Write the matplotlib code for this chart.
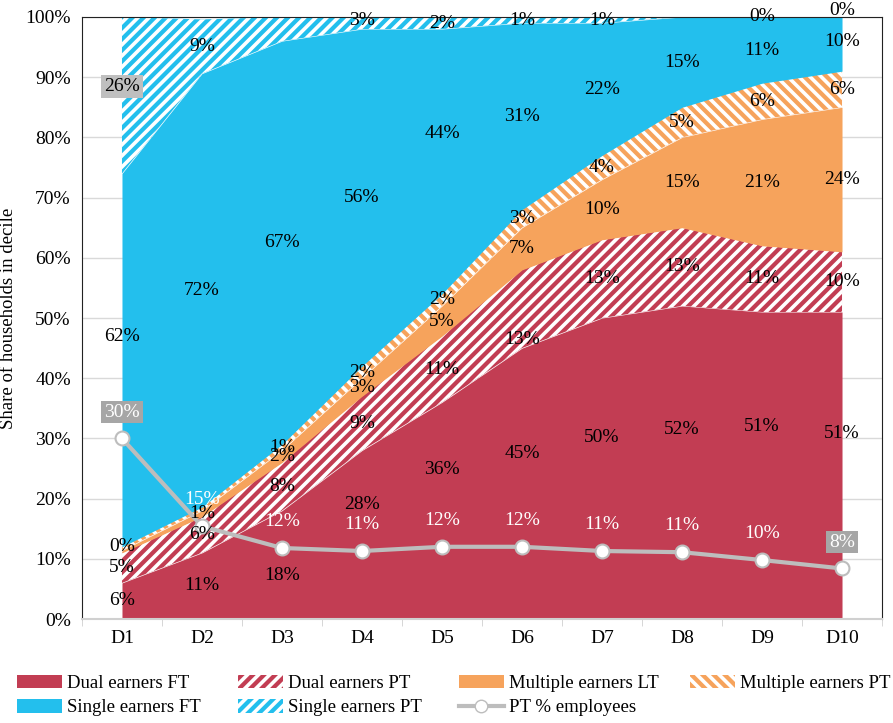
import matplotlib
matplotlib.use("Agg")
import matplotlib.pyplot as plt
from matplotlib.patches import Patch
from matplotlib.lines import Line2D
import numpy as np

plt.rcParams['font.family'] = ['Liberation Serif', 'DejaVu Serif']
plt.rcParams['hatch.color'] = 'white'
plt.rcParams['hatch.linewidth'] = 2.6

deciles = ["D1", "D2", "D3", "D4", "D5", "D6", "D7", "D8", "D9", "D10"]

# share of households in decile (%)
dual_ft = [6, 11, 18, 28, 36, 45, 50, 52, 51, 51]
dual_pt = [5, 6, 8, 9, 11, 13, 13, 13, 11, 10]
multi_lt = [0.4, 1, 2, 3, 5, 7, 10, 15, 21, 24]
multi_pt = [0.6, 0.6, 1, 2, 2, 3, 4, 5, 6, 6]
single_ft = [62, 72, 67, 56, 44, 31, 22, 15, 11, 10]
single_pt = [26, 9, 4, 3, 2, 1, 1, 0, 0, 0]

pt_employees = [30, 15.4, 11.8, 11.3, 12.0, 12.0, 11.3, 11.1, 9.8, 8.4]

series = [
    ("Dual earners FT", dual_ft, "#C23D53", None),
    ("Dual earners PT", dual_pt, "#C23D53", "///"),
    ("Multiple earners LT", multi_lt, "#F6A35C", None),
    ("Multiple earners PT", multi_pt, "#F6A35C", "\\\\\\"),
    ("Single earners FT", single_ft, "#23BFED", None),
    ("Single earners PT", single_pt, "#23BFED", "///"),
]
# labels that are not shown on the original chart
hidden = {("Multiple earners PT", 0), ("Multiple earners PT", 1),
          ("Single earners PT", 2), ("Single earners PT", 7)}
# labels dragged away from the middle of their band (in % points)
nudge = {("Dual earners FT", 2): -1.7, ("Dual earners FT", 3): 5,
         ("Dual earners FT", 4): 6.8, ("Dual earners FT", 5): 5,
         ("Dual earners FT", 6): 5.2, ("Dual earners FT", 7): 5.4,
         ("Dual earners FT", 8): 6.5, ("Dual earners FT", 9): 5.4,
         ("Dual earners PT", 5): -5, ("Single earners FT", 4): 4.7,
         ("Single earners FT", 0): 4, ("Single earners PT", 0): 1.5,
         ("Multiple earners LT", 0): 0.8}

fig = plt.figure(figsize=(8.93, 7.23), dpi=100)
ax = fig.add_axes([0.0918, 0.1438, 0.8959, 0.8327])

x = np.arange(len(deciles))
base = np.zeros(len(deciles))
handles = {}
for name, vals, col, hatch in series:
    v = np.array(vals, dtype=float)
    top = base + v
    ax.fill_between(x, base / 100, top / 100, facecolor=col, edgecolor='white',
                    linewidth=0, hatch=hatch, zorder=2)
    handles[name] = Patch(facecolor=col, edgecolor='white', linewidth=0, hatch=hatch)
    for i in range(len(x)):
        if (name, i) in hidden:
            continue
        kw = {}
        if name == "Single earners PT" and i == 0:
            kw['bbox'] = dict(boxstyle='square,pad=0.15', facecolor='#BFBFBF', edgecolor='none')
        y = base[i] + v[i] / 2 + nudge.get((name, i), 0)
        ax.text(x[i], y / 100, "%d%%" % round(v[i]),
                ha='center', va='center', fontsize=14, color='black', zorder=5, **kw)
    base = top

pt = np.array(pt_employees) / 100
ax.plot(x, pt, color='#BDBDBD', lw=3, marker='o', ms=10, mfc='white',
        mec='#BDBDBD', mew=1.5, zorder=4)
for i in range(len(x)):
    kw = {}
    if i in (0, len(x) - 1):
        kw['bbox'] = dict(boxstyle='square,pad=0.15', facecolor='#A6A6A6', edgecolor='none')
    ax.annotate("%d%%" % round(pt_employees[i]), (x[i], pt[i]), xytext=(0, 19),
                textcoords='offset points', ha='center', va='center',
                fontsize=14, color='white', zorder=6, **kw)

ax.set_xlim(-0.5, 9.5)
ax.set_ylim(0, 1)
ax.set_yticks(np.arange(0, 1.01, 0.1))
ax.set_yticklabels(["%d%%" % p for p in range(0, 101, 10)], fontsize=14)
ax.set_xticks(x)
ax.set_xticklabels(deciles, fontsize=14)
ax.set_xticks(np.arange(-0.5, 10, 1), minor=True)
ax.tick_params(axis='x', which='major', length=0, pad=8)
ax.tick_params(axis='x', which='minor', length=5, color='#D0D0D0')
ax.tick_params(axis='y', length=0, pad=8)
ax.grid(axis='y', color='#D9D9D9', lw=1, zorder=0)
ax.set_axisbelow(True)
for s in ['left', 'top', 'right']:
    ax.spines[s].set_color('#222222')
ax.spines['bottom'].set_color('#D0D0D0')
ax.spines['bottom'].set_linewidth(1.5)
ax.set_ylabel("Share of households in decile", fontsize=13.5, labelpad=6)

line_h = Line2D([], [], color='#BDBDBD', lw=3, marker='o', ms=9, mfc='white', mec='#BDBDBD')
order = ["Dual earners FT", "Single earners FT", "Dual earners PT", "Single earners PT",
         "Multiple earners LT", "PT % employees"]
hs = [line_h if n == "PT % employees" else handles[n] for n in order]
leg_kw = dict(frameon=False, fontsize=13.5, handlelength=2.4, handleheight=0.75,
              handletextpad=0.25, labelspacing=0.38, borderaxespad=0, borderpad=0)
fig.legend(hs, order, loc='upper left', bbox_to_anchor=(0.019, 0.067), ncol=3,
           columnspacing=2.0, **leg_kw)
fig.legend([handles["Multiple earners PT"]], ["Multiple earners PT"], loc='upper left',
           bbox_to_anchor=(0.773, 0.067), **leg_kw)

fig.savefig("out.png", dpi=100)
